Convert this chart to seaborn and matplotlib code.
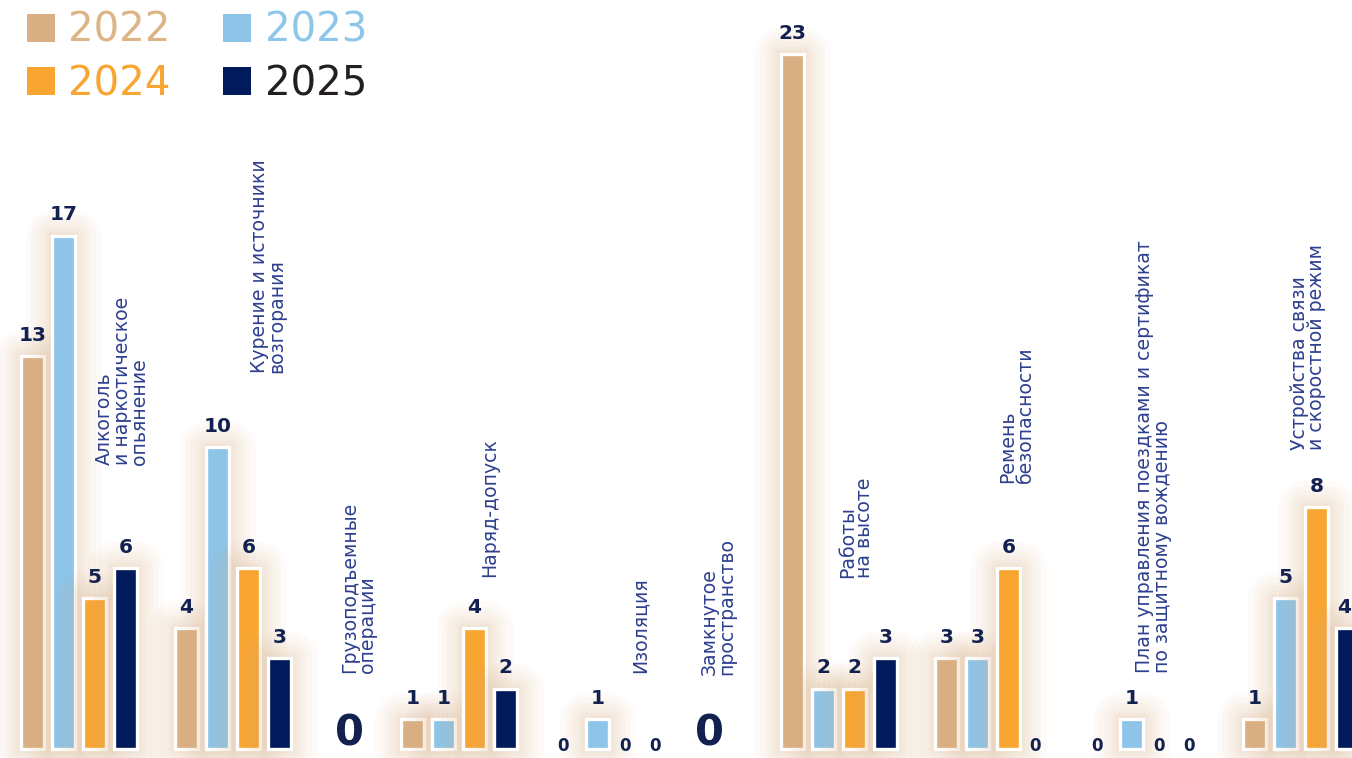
import numpy as np
import pandas as pd
import seaborn as sns
import matplotlib.pyplot as plt
import matplotlib.patheffects as pe
from matplotlib.patches import Patch

years = ["2022", "2023", "2024", "2025"]
colors = ["#D9B083", "#8DC4E8", "#F8A532", "#001A5B"]
legend_text_colors = ["#DDB487", "#8EC6EA", "#F8A532", "#231F20"]

categories = [
    "Алкоголь\nи наркотическое\nопьянение",
    "Курение и источники\nвозгорания",
    "Грузоподъемные\nоперации",
    "Наряд-допуск",
    "Изоляция",
    "Замкнутое\nпространство",
    "Работы\nна высоте",
    "Ремень\nбезопасности",
    "План управления поездками и сертификат\nпо защитному вождению",
    "Устройства связи\nи скоростной режим",
]
v2022 = [13, 4, 0, 1, 0, 0, 23, 3, 0, 1]
v2023 = [17, 10, 0, 1, 1, 0, 2, 3, 1, 5]
v2024 = [5, 6, 0, 4, 0, 0, 2, 6, 0, 8]
v2025 = [6, 3, 0, 2, 0, 0, 3, 0, 0, 4]

# layout (x axis runs in pixels 0..1352, y in counts)
x0, pitch, group_w, empty_w, bar_w = 20, 31, 154, 72, 23
label_dx = [75, 76, 12, 80, 77, -8, 58, 64, 47, 48]
label_y = [9.4, 12.45, 2.52, 5.7, 2.52, 2.45, 5.66, 8.8, 2.52, 9.9]
px_per_unit, base_px, width_px = 30.2, 749, 1352

navy_txt = "#12214F"
cat_txt = "#2E3F8F"

values = np.array([v2022, v2023, v2024, v2025])
starts = []
s = x0
for j in range(len(categories)):
    starts.append(s)
    s += group_w if values[:, j].sum() > 0 else empty_w

rows = []
for j, cat in enumerate(categories):
    for i, yr in enumerate(years):
        rows.append(dict(cat=cat, year=yr, value=values[i, j],
                         x=starts[j] + i * pitch + 12.5))
df = pd.DataFrame(rows)

fig = plt.figure(figsize=(13.52, 7.58), dpi=100)
ax = fig.add_axes([0, 0, 1, 1])

bars = df[df.value > 0]
sns.barplot(data=bars, x="x", y="value", hue="year", hue_order=years,
            palette=colors, native_scale=True, dodge=False, saturation=1,
            width=bar_w / pitch, edgecolor="white", linewidth=2.4,
            errorbar=None, legend=False, ax=ax)

# soft warm glow round the bars
glow = [pe.Stroke(linewidth=w, foreground="#D8AE82", alpha=0.05,
                  joinstyle="round")
        for w in (38, 30, 23, 17, 12, 7, 4)] + [pe.Normal()]
for p in ax.patches:
    p.set_path_effects(glow)

# value labels
for _, r in df.iterrows():
    j = categories.index(r["cat"])
    if values[:, j].sum() == 0:
        continue
    if r["value"] > 0:
        lx = min(r["x"], width_px - 8)
        ax.annotate(str(r["value"]), (lx, r["value"]), xytext=(0, 11),
                    textcoords="offset points", ha="center", va="baseline",
                    fontsize=14.5, fontweight="bold", color=navy_txt)
    else:
        ax.annotate("0", (r["x"] - 4, 0), xytext=(0, -1.5),
                    textcoords="offset points", ha="center", va="baseline",
                    fontsize=12, fontweight="bold", color=navy_txt)

# category labels, big zeros for empty groups
for j, cat in enumerate(categories):
    lx = starts[j] + label_dx[j]
    ax.text(lx, label_y[j], cat, rotation=90, ha="left", va="bottom",
            fontsize=13.6, color=cat_txt, linespacing=0.9)
    if values[:, j].sum() == 0:
        ax.text(lx - 5, 0.1, "0", ha="left", va="baseline",
                fontsize=30, fontweight="bold", color=navy_txt)

handles = [Patch(facecolor=c, edgecolor="none") for c in colors]
order = [0, 2, 1, 3]
ax.legend([handles[k] for k in order], [years[k] for k in order],
          labelcolor=[legend_text_colors[k] for k in order],
          loc="upper left", bbox_to_anchor=(27 / 1352, 1 - 11 / 758),
          ncol=2, frameon=False, fontsize=29, handlelength=0.7,
          handleheight=0.7, handletextpad=0.33, columnspacing=1.3,
          labelspacing=0.33, borderpad=0, borderaxespad=0)

ax.set_xlim(0, width_px)
ax.set_ylim(-(758 - base_px) / px_per_unit, base_px / px_per_unit)
ax.axis("off")

fig.savefig("out.png", dpi=100)
